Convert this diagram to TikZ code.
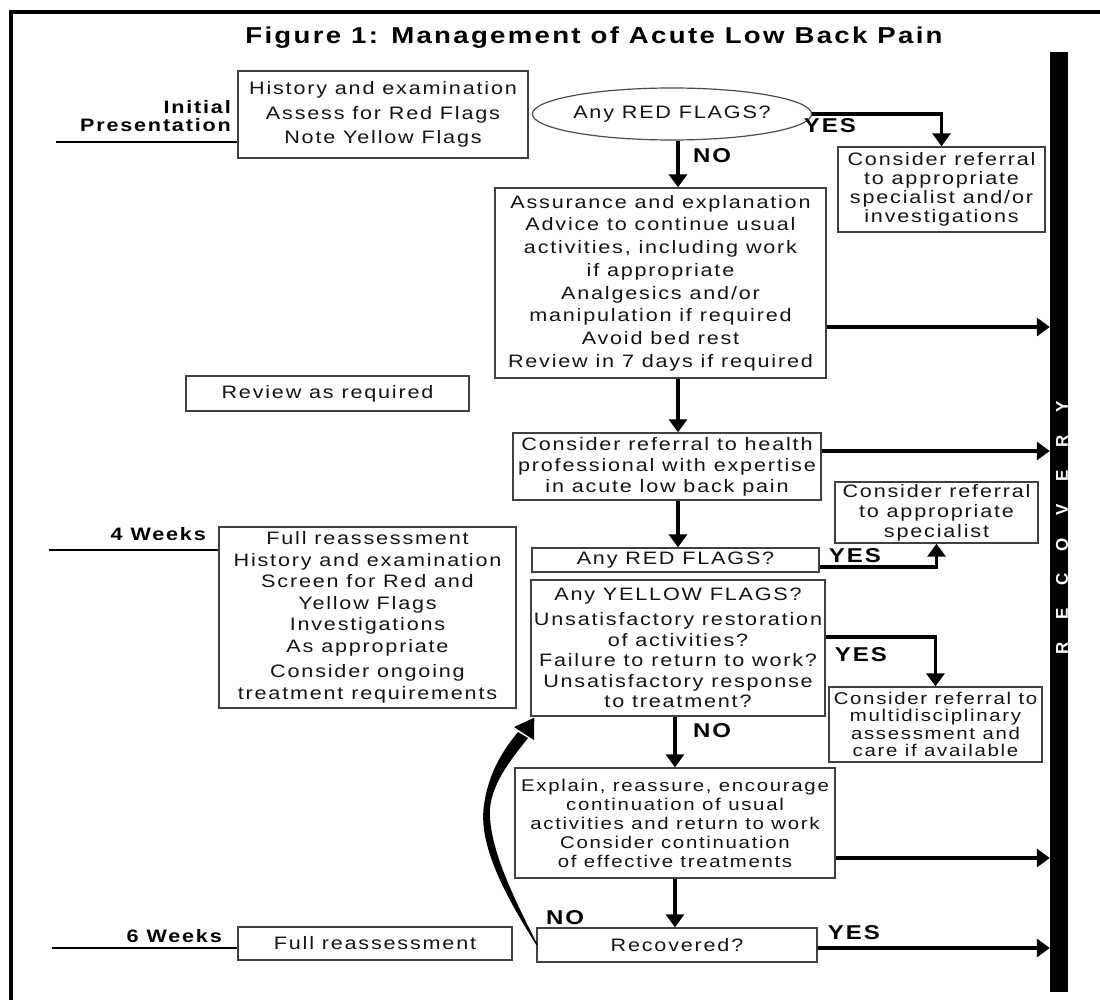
\documentclass[tikz,border=0pt]{standalone}
\usepackage{fontspec}
\setmainfont{Liberation Sans}[FakeStretch=1.2,LetterSpace=10]
\newfontfamily\recfont{Liberation Sans}
\usetikzlibrary{arrows.meta,calc,shapes.geometric}
\begin{document}
\begin{tikzpicture}[x=1pt,y=-1pt,
  box/.style={draw=black!75, line width=1.4pt, align=center, inner sep=1pt, text=black!92, font=\fontsize{18}{22}\selectfont},
  lbl/.style={font=\bfseries\fontsize{20}{22}\selectfont, inner sep=0pt},
  side/.style={font=\bfseries\fontsize{18}{18}\selectfont, inner sep=0pt},
  arr/.style={line width=3.4pt, -{Triangle[width=18pt,length=13pt]}},
  rule/.style={line width=2.8pt}]
\useasboundingbox (0,0) rectangle (1100,1000);
\fill[white] (0,0) rectangle (1100,1000);
% frame
\draw[line width=4pt] (9,12) -- (1100,12);
\draw[line width=4pt] (10.5,10) -- (10.5,1000);
% title
\node[font=\bfseries\fontsize{23}{26}\selectfont, anchor=base, inner sep=0pt] (title) at (594,44) {Figure 1: Management of Acute Low Back Pain};
% recovery bar
\node[fill=black, draw=none, minimum width=18pt, minimum height=940pt, inner sep=0pt] (bar) at (1059,522) {};
\foreach \l [count=\i from 0] in {R,E,C,O,V,E,R,Y}
  \node[rotate=90, text=white, font=\recfont\bfseries\fontsize{17}{17}\selectfont, inner sep=0pt] (recov\i) at (1062,{648-34.5*\i}) {\l};
% column coordinates
\coordinate (c1) at (678,0);
\coordinate (c2) at (675,0);
% left labels
\node[side, align=right, anchor=east] (init) at (231,116) {Initial\\Presentation};
\node[side, anchor=base east] (w4) at (206,540) {4 Weeks};
\node[side, anchor=base east] (w6) at (222,942) {6 Weeks};
% boxes
\node[box, font=\fontsize{18}{24.5}\selectfont, minimum width=290pt, minimum height=87pt] (hist) at (383,114.5) {History and examination\\Assess for Red Flags\\Note Yellow Flags};
\node[draw=black!70, line width=1.2pt, ellipse, minimum width=240pt, minimum height=52pt, inner sep=0pt, text=black!92, font=\fontsize{18}{22}\selectfont] (rf1) at (672,114) {Any RED FLAGS?};
\node[box, font=\fontsize{18}{19}\selectfont, minimum width=207pt, minimum height=85pt] (R1) at (941.5,189.5) {Consider referral\\to appropriate\\specialist and/or\\investigations};
\node[box, font=\fontsize{18}{22.7}\selectfont, minimum width=331pt, minimum height=190pt] (adv) at (660.5,283) {Assurance and explanation\\Advice to continue usual\\activities, including work\\if appropriate\\Analgesics and/or\\manipulation if required\\Avoid bed rest\\Review in 7 days if required};
\node[box, minimum width=283pt, minimum height=35pt] (rev) at (327.5,393.5) {Review as required};
\node[box, font=\fontsize{18}{21}\selectfont, minimum width=308pt, minimum height=67pt] (hp) at (667,466.5) {Consider referral to health\\professional with expertise\\in acute low back pain};
\node[box, font=\fontsize{18}{20}\selectfont, minimum width=203pt, minimum height=61pt] (R2) at (936.5,512.5) {Consider referral\\to appropriate\\specialist};
\node[box, inner sep=0pt, minimum width=287pt, minimum height=24pt] (rf2) at (675.5,560) {Any RED FLAGS?};
\node[box, font=\fontsize{18}{20.5}\selectfont, minimum width=294pt, minimum height=136pt] (yf) at (678,648) {Any YELLOW FLAGS?\\[5pt]Unsatisfactory restoration\\of activities?\\Failure to return to work?\\Unsatisfactory response\\to treatment?};
\node[box, font=\fontsize{17}{17.5}\selectfont, minimum width=213pt, minimum height=75pt] (R3) at (935.5,724.5) {Consider referral to\\multidisciplinary\\assessment and\\care if available};
\node[box, font=\fontsize{17}{19}\selectfont, minimum width=320pt, minimum height=110pt] (ex) at (675,823) {Explain, reassure, encourage\\continuation of usual\\activities and return to work\\Consider continuation\\of effective treatments};
\node[box, minimum width=280pt, minimum height=34pt] (rec) at (677,945) {Recovered?};
\node[box, font=\fontsize{18}{21.5}\selectfont, minimum width=297pt, minimum height=181pt] (fr4) at (367.5,617.5) {Full reassessment\\History and examination\\Screen for Red and\\Yellow Flags\\Investigations\\As appropriate\\[4pt]Consider ongoing\\treatment requirements};
\node[box, minimum width=274pt, minimum height=33pt] (fr6) at (375,943.5) {Full reassessment};
% time rules
\coordinate (u1) at (56,142);
\draw[rule] (u1) -- (u1 -| hist.west);
\coordinate (u4) at (49,550);
\draw[rule] (u4) -- (u4 -| fr4.west);
\coordinate (u6) at (52,948);
\draw[rule] (u6) -- (u6 -| fr6.west);
% connectors
\draw[arr] (rf1.south -| c1) -- (adv.north -| c1);
\draw[arr] (rf1.east) -| (R1.north);
\coordinate (a1) at (0,327);
\draw[arr] (adv.east |- a1) -- (bar.west |- a1);
\draw[arr] (adv.south -| c1) -- (hp.north -| c1);
\coordinate (a2) at (0,451);
\draw[arr] (hp.east |- a2) -- (bar.west |- a2);
\draw[arr] (hp.south -| c1) -- (rf2.north -| c1);
\coordinate (a3) at (0,567);
\draw[arr] (rf2.east |- a3) -| (R2.south);
\coordinate (a4) at (0,637);
\draw[arr] (yf.east |- a4) -| (R3.north);
\draw[arr] (yf.south -| c2) -- (ex.north -| c2);
\coordinate (a5) at (0,858);
\draw[arr] (ex.east |- a5) -- (bar.west |- a5);
\draw[arr] (ex.south -| c2) -- (rec.north -| c2);
\coordinate (a6) at (0,948);
\draw[arr] (rec.east |- a6) -- (bar.west |- a6);
% curved return arrow (tapered)
\coordinate (cs) at (rec.west);
\coordinate (ct) at ($(yf.south west)+(4,1)$);
\fill[black] (cs) .. controls (505,895) and (478,845) .. (484,805)
  .. controls (489,770) and (505,748) .. (518,732)
  -- (528,738) .. controls (514,756) and (493,780) .. (490,808)
  .. controls (488,845) and (512,895) .. ($(cs)+(1.5,0)$) -- cycle;
\fill[black] (ct) -- (514,727) -- (534,740) -- cycle;
% labels
\node[lbl] (yes1) at (830,126) {YES};
\node[lbl] (no1) at (712,156) {NO};
\node[lbl] (yes2) at (855,556) {YES};
\node[lbl] (yes3) at (861,655) {YES};
\node[lbl] (no2) at (712,731) {NO};
\node[lbl] (no3) at (565,918) {NO};
\node[lbl] (yes4) at (854,933) {YES};
\end{tikzpicture}
\end{document}
